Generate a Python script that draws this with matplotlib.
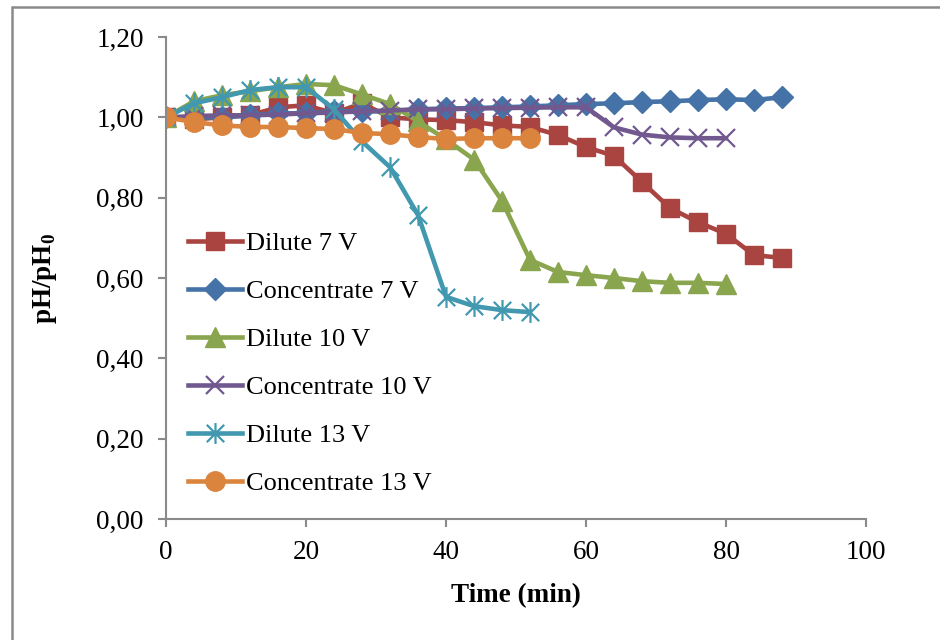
import matplotlib
matplotlib.use("Agg")
import matplotlib.pyplot as plt
from matplotlib.path import Path
from matplotlib.patches import Rectangle

plt.rcParams['font.family'] = ['Liberation Serif', 'DejaVu Serif']
plt.rcParams['mathtext.fontset'] = 'custom'
plt.rcParams['mathtext.rm'] = 'Liberation Serif'
plt.rcParams['mathtext.bf'] = 'Liberation Serif:bold'

# ---- data ----
t_dil7 = [0, 4, 8, 12, 16, 20, 24, 28, 32, 36, 40, 44, 48, 52, 56, 60, 64, 68, 72, 76, 80, 84, 88]
dil7 = [1.00, 0.995, 1.00, 1.005, 1.025, 1.03, 1.01, 1.035, 1.00, 0.995, 0.993, 0.988, 0.98, 0.976,
        0.956, 0.926, 0.904, 0.839, 0.774, 0.739, 0.71, 0.657, 0.65]

t_con7 = [0, 4, 8, 12, 16, 20, 24, 28, 32, 36, 40, 44, 48, 52, 56, 60, 64, 68, 72, 76, 80, 84, 88]
con7 = [1.00, 1.00, 1.00, 1.005, 1.01, 1.01, 1.015, 1.015, 1.015, 1.02, 1.022, 1.023, 1.025, 1.027,
        1.03, 1.033, 1.035, 1.038, 1.04, 1.043, 1.045, 1.043, 1.05]

t_dil10 = [0, 4, 8, 12, 16, 20, 24, 28, 32, 36, 40, 44, 48, 52, 56, 60, 64, 68, 72, 76, 80]
dil10 = [1.00, 1.04, 1.055, 1.065, 1.075, 1.083, 1.08, 1.057, 1.033, 0.99, 0.945, 0.895, 0.792,
         0.645, 0.615, 0.607, 0.60, 0.592, 0.588, 0.588, 0.585]

t_con10 = [0, 4, 8, 12, 16, 20, 24, 28, 32, 36, 40, 44, 48, 52, 56, 60, 64, 68, 72, 76, 80]
con10 = [1.00, 1.003, 1.005, 1.005, 1.007, 1.01, 1.012, 1.015, 1.017, 1.02, 1.02, 1.022, 1.023,
         1.024, 1.025, 1.025, 0.975, 0.957, 0.95, 0.948, 0.948]

t_dil13 = [0, 4, 8, 12, 16, 20, 24, 28, 32, 36, 40, 44, 48, 52]
dil13 = [1.00, 1.035, 1.05, 1.068, 1.075, 1.075, 1.02, 0.94, 0.876, 0.757, 0.553, 0.53, 0.52, 0.515]

t_con13 = [0, 4, 8, 12, 16, 20, 24, 28, 32, 36, 40, 44, 48, 52]
con13 = [1.00, 0.988, 0.98, 0.976, 0.976, 0.973, 0.971, 0.961, 0.958, 0.951, 0.946, 0.948, 0.948, 0.948]

labels = ['Dilute 7 V', 'Concentrate 7 V', 'Dilute 10 V', 'Concentrate 10 V',
          'Dilute 13 V', 'Concentrate 13 V']
x_ticks = [0, 20, 40, 60, 80, 100]
y_ticks = [0.0, 0.2, 0.4, 0.6, 0.8, 1.0, 1.2]
y_ticklabels = ['0,00', '0,20', '0,40', '0,60', '0,80', '1,00', '1,20']

# asterisk marker (x + vertical bar)
star = Path([(-0.5, -0.5), (0.5, 0.5), (-0.5, 0.5), (0.5, -0.5), (0, -0.6), (0, 0.6)],
            [Path.MOVETO, Path.LINETO, Path.MOVETO, Path.LINETO, Path.MOVETO, Path.LINETO])

fig = plt.figure(figsize=(9.4, 6.4), dpi=100)
ax = fig.add_axes([166/940, 1-519/640, 700/940, 482/640])

fig.add_artist(Rectangle((12/940, -0.1), 2.0, 1.1 - 7/640, transform=fig.transFigure,
                         fill=False, edgecolor='#8a8a8a', linewidth=1.8, clip_on=False))

lw = 3.3
ax.plot(t_dil7, dil7, color='#A94441', lw=lw, marker='s', ms=13, mec='#A94441', mfc='#A94441', label=labels[0])
ax.plot(t_con7, con7, color='#4572A7', lw=lw, marker='D', ms=11, mec='#4572A7', mfc='#4572A7', label=labels[1])
ax.plot(t_dil10, dil10, color='#89A54E', lw=lw, marker='^', ms=14, mec='#89A54E', mfc='#89A54E', label=labels[2])
ax.plot(t_con10, con10, color='#71588F', lw=lw, marker='x', ms=13, mew=1.6, mec='#71588F', label=labels[3])
ax.plot(t_dil13, dil13, color='#4198AF', lw=lw, marker=star, ms=15, mew=1.6, mec='#4198AF', mfc='none', label=labels[4])
ax.plot(t_con13, con13, color='#DB843D', lw=lw, marker='o', ms=14, mec='#DB843D', mfc='#DB843D', label=labels[5])

ax.set_xlim(0, 100)
ax.set_ylim(0, 1.2)
ax.set_xticks(x_ticks)
ax.set_xticklabels([str(v) for v in x_ticks])
ax.set_yticks(y_ticks)
ax.set_yticklabels(y_ticklabels)

for s in ['top', 'right']:
    ax.spines[s].set_visible(False)
for s in ['left', 'bottom']:
    ax.spines[s].set_color('#8a8a8a')
    ax.spines[s].set_linewidth(1.5)
ax.tick_params(axis='both', direction='out', length=6, width=1.5, color='#8a8a8a',
               labelsize=19.5, labelcolor='black')
ax.tick_params(axis='y', pad=10)
ax.tick_params(axis='x', pad=9)

ax.set_xlabel('Time (min)', fontsize=19.5, fontweight='bold', labelpad=13)
ax.set_ylabel(r'pH/pH$_\mathbf{0}$', fontsize=19.5, fontweight='bold', labelpad=27)

leg = ax.legend(loc='upper left', bbox_to_anchor=(0.0086, 0.629), frameon=False, fontsize=19,
                handlelength=2.05, handletextpad=0.15, labelspacing=0.93, borderaxespad=0.2)

fig.savefig('out.png', dpi=100)
